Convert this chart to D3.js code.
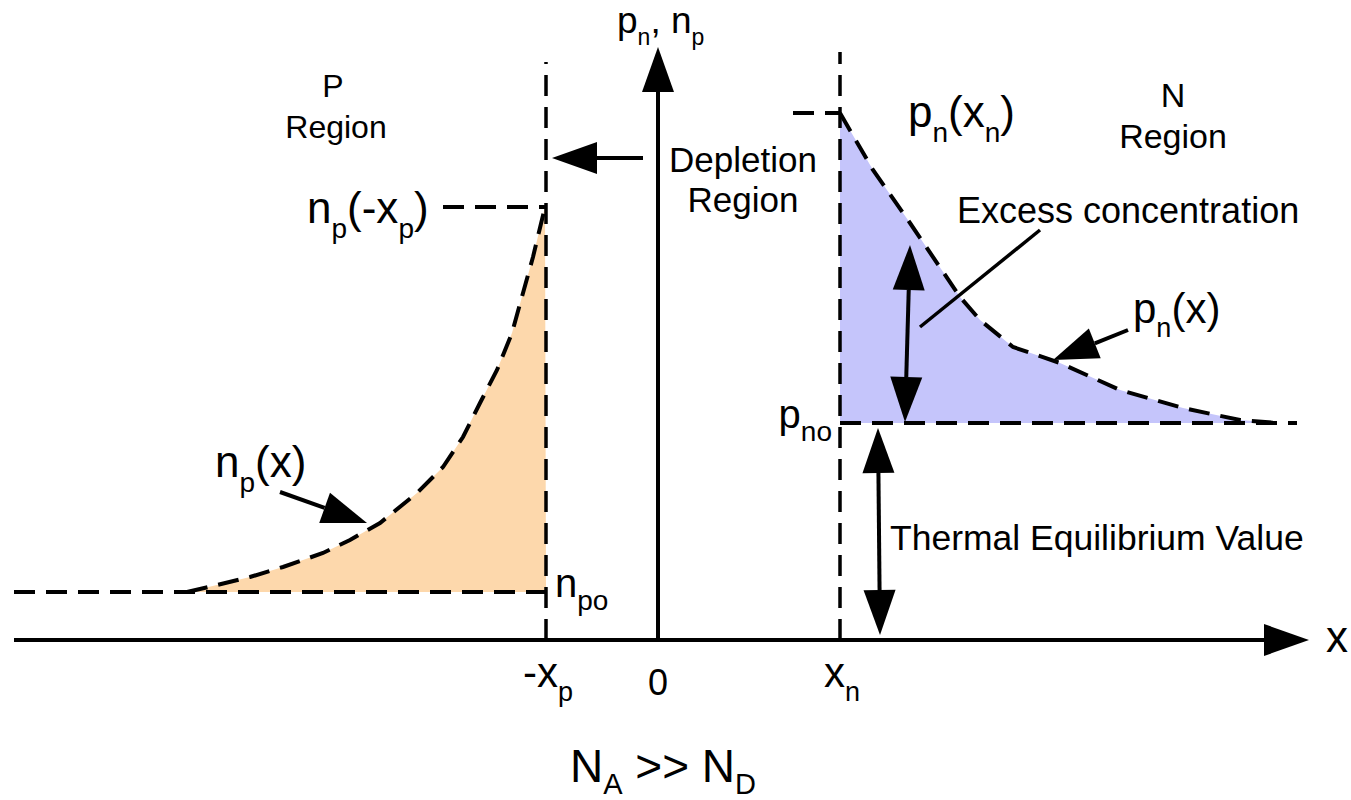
<!DOCTYPE html>
<html>
<head>
<meta charset="utf-8">
<script src="https://cdn.jsdelivr.net/npm/d3@7"></script>
<style>
  body { margin: 0; background: #fff; }
  text { font-family: "Liberation Sans", Arial, sans-serif; fill: #000; }
</style>
</head>
<body>
<div id="chart"></div>
<script>
// Bordes de la zona de deplexión y niveles de equilibrio
const xp = -1.12;
const xn = 1.82;
const npo = 0.48;
const npEdge = 4.33;
const pno = 2.17;
const pnEdge = 5.27;

// Electrones en la región P: n_p(x)
const npX = [-4.71, -4.41, -4.08, -3.75, -3.35, -3.08, -2.78, -2.41, -2.15, -1.95, -1.78, -1.61, -1.46, -1.35, -1.25, -1.13];
const npY = [0.48, 0.55, 0.63, 0.73, 0.87, 1.00, 1.17, 1.47, 1.73, 2.03, 2.37, 2.70, 3.07, 3.47, 3.83, 4.33];

// Huecos en la región N: p_n(x)
const pnX = [1.82, 2.15, 2.52, 3.02, 3.22, 3.55, 4.02, 4.62, 5.25, 5.82, 6.19];
const pnY = [5.27, 4.70, 4.17, 3.43, 3.20, 2.93, 2.77, 2.50, 2.32, 2.20, 2.17];

// Etiquetas del eje x (partes: [texto, subíndice?])
const tickLabels = [
  { x: xp, parts: [["-x", 0], ["p", 1]] },
  { x: 0, parts: [["0", 0]] },
  { x: xn, parts: [["x", 0], ["n", 1]] }
];

const width = 1351, height = 800;
const xScale = d3.scaleLinear().domain([-6.44, 6.52]).range([14, 1310]);
const yScale = d3.scaleLinear().domain([0, 5.93]).range([640, 47]);

const svg = d3.select("#chart")
  .append("svg")
  .attr("width", width)
  .attr("height", height);

const dash = "21,11";

// Rellenos
const area = d3.line().x(d => xScale(d[0])).y(d => yScale(d[1]));
const npPts = npX.map((x, i) => [x, npY[i]]);
const pnPts = pnX.map((x, i) => [x, pnY[i]]);

svg.append("path")
  .attr("d", area(npPts.concat([[xp, npo]])) + "Z")
  .attr("fill", "#fdd8ac");

svg.append("path")
  .attr("d", area(pnPts.concat([[xn, pno]])) + "Z")
  .attr("fill", "#c5c5fb");

// Líneas discontinuas
function dashed(pts, w) {
  svg.append("path")
    .attr("d", area(pts))
    .attr("fill", "none")
    .attr("stroke", "#000")
    .attr("stroke-width", w || 4)
    .attr("stroke-dasharray", dash);
}
dashed([[xp, 0], [xp, 5.78]], 3.5);
dashed([[xn, 0], [xn, 5.88]], 3.5);
dashed([[-6.44, npo], [xp, npo]]);
dashed([[xn, pno], [6.39, pno]]);
dashed([[-2.15, npEdge], [xp, npEdge]]);
dashed([[1.35, pnEdge], [xn, pnEdge]]);
dashed(npPts);
dashed(pnPts);

// Flechas
function arrow(x1, y1, x2, y2, both) {
  const p1 = [xScale(x1), yScale(y1)], p2 = [xScale(x2), yScale(y2)];
  const len = 45, hw = 16;
  function head(a, b) {
    const dx = b[0] - a[0], dy = b[1] - a[1];
    const L = Math.hypot(dx, dy), ux = dx / L, uy = dy / L;
    const bx = b[0] - ux * len, by = b[1] - uy * len;
    svg.append("path")
      .attr("d", `M${b[0]},${b[1]}L${bx - uy * hw},${by + ux * hw}L${bx + uy * hw},${by - ux * hw}Z`)
      .attr("fill", "#000");
    return [bx, by];
  }
  const e = head(p1, p2);
  const s = both ? head(p2, p1) : p1;
  svg.append("line")
    .attr("x1", s[0]).attr("y1", s[1])
    .attr("x2", e[0]).attr("y2", e[1])
    .attr("stroke", "#000").attr("stroke-width", 4);
}

// Ejes
svg.append("line")
  .attr("x1", xScale(-6.44)).attr("y1", yScale(0))
  .attr("x2", xScale(6.0)).attr("y2", yScale(0))
  .attr("stroke", "#000").attr("stroke-width", 4);
arrow(6.0, 0, 6.51, 0);
svg.append("line")
  .attr("x1", xScale(0)).attr("y1", yScale(0))
  .attr("x2", xScale(0)).attr("y2", yScale(5.4))
  .attr("stroke", "#000").attr("stroke-width", 4);
arrow(0, 5.4, 0, 5.93);

arrow(-0.15, 4.82, -1.06, 4.82);
arrow(-3.78, 1.48, -2.91, 1.17);
arrow(2.52, 3.95, 2.47, 2.18, true);
arrow(4.70, 3.10, 3.95, 2.80);
arrow(2.20, 2.12, 2.22, 0.05, true);
svg.append("line")
  .attr("x1", xScale(3.82)).attr("y1", yScale(4.10))
  .attr("x2", xScale(2.62)).attr("y2", yScale(3.13))
  .attr("stroke", "#000").attr("stroke-width", 3.5);

// Texto con subíndices
function label(x, y, parts, size, sub, anchor, offRatio) {
  const t = svg.append("text")
    .attr("x", x).attr("y", y)
    .attr("font-size", size)
    .attr("text-anchor", anchor || "start");
  let low = false;
  const off = Math.round(size * (offRatio || 0.33));
  parts.forEach(p => {
    const s = t.append("tspan").text(p[0]);
    if (p[1] && !low) { s.attr("dy", off).attr("font-size", sub); low = true; }
    else if (p[1]) { s.attr("font-size", sub); }
    else if (low) { s.attr("dy", -off); low = false; }
  });
  return t;
}

label(617, 33, [["p", 0], ["n", 1], [", n", 0], ["p", 1]], 37, 23);
label(333, 97, [["P", 0]], 32, 32, "middle");
label(336, 138, [["Region", 0]], 32, 32, "middle");
label(1173, 107, [["N", 0]], 34, 34, "middle");
label(1173, 148, [["Region", 0]], 34, 34, "middle");
label(743, 172, [["Depletion", 0]], 35, 35, "middle");
label(743, 212, [["Region", 0]], 35, 35, "middle");
label(307, 223, [["n", 0], ["p", 1], ["(-x", 0], ["p", 1], [")", 0]], 44, 28);
label(908, 127, [["p", 0], ["n", 1], ["(x", 0], ["n", 1], [")", 0]], 44, 28);
label(957, 223, [["Excess concentration", 0]], 36, 36);
label(1133, 323, [["p", 0], ["n", 1], ["(x)", 0]], 42, 27);
label(215, 477, [["n", 0], ["p", 1], ["(x)", 0]], 44, 28);
label(xScale(xp) + 9, yScale(npo) + 5, [["n", 0], ["po", 1]], 40, 28);
label(xScale(xn) - 8, yScale(pno) + 5, [["p", 0], ["no", 1]], 40, 28, "end");
label(890, 550, [["Thermal Equilibrium Value", 0]], 35.5, 35.5);
label(1326, 652, [["x", 0]], 44, 44);

tickLabels.forEach(d => {
  const isZero = d.x === 0;
  label(xScale(d.x) + (isZero ? 0 : 2), isZero ? 695 : 687, d.parts, isZero ? 36 : 42, 27, "middle");
});

label(570, 782, [["N", 0], ["A", 1], [" >> N", 0], ["D", 1]], 46, 29, "start", 0.27);
</script>
</body>
</html>
